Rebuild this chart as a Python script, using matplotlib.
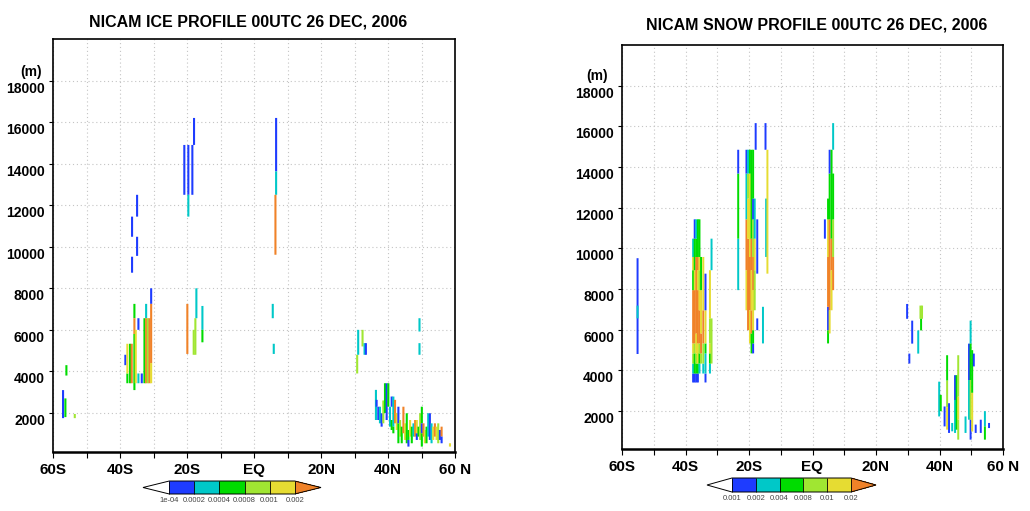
import matplotlib
matplotlib.use('Agg')
import matplotlib.pyplot as plt
from matplotlib.colors import ListedColormap, BoundaryNorm
from matplotlib.cm import ScalarMappable
import matplotlib.transforms as mtransforms

# ---------------- data ----------------
LAT_TICKS = [-60, -40, -20, 0, 20, 40, 60]
LAT_LABELS = ['60S', '40S', '20S', 'EQ', '20N', '40N', '60 N']
Z_TICKS = [2000, 4000, 6000, 8000, 10000, 12000, 14000, 16000, 18000]

ICE_LEVELS = [1e-4, 2e-4, 4e-4, 8e-4, 1e-3, 2e-3]
ICE_LEVEL_LABELS = ['1e-04', '0.0002', '0.0004', '0.0008', '0.001', '0.002']
SNOW_LEVELS = [0.001, 0.002, 0.004, 0.008, 0.01, 0.02]
SNOW_LEVEL_LABELS = ['0.001', '0.002', '0.004', '0.008', '0.01', '0.02']

LEVEL_COLORS = ['#1e3cff', '#00c8c8', '#00dc00', '#a0e632', '#e6dc32']
OVER_COLOR = '#f08228'

ICE_TITLE = 'NICAM ICE PROFILE 00UTC 26 DEC, 2006'
SNOW_TITLE = 'NICAM SNOW PROFILE 00UTC 26 DEC, 2006'

# ice segments: (latitude, bottom m, top m, mixing ratio)
ice_60s = [(-57.0, 1750, 3100, 1.5e-4), (-56.3, 1800, 2700, 6e-4),
           (-56.0, 3800, 4300, 6e-4), (-53.5, 1750, 1950, 9e-4)]
ice_35s_upper = [(-36.4, 8750, 9520, 1.5e-4), (-36.4, 10480, 11450, 1.5e-4),
                 (-34.9, 9560, 10480, 1.5e-4), (-34.9, 11450, 12500, 1.5e-4)]
ice_35s_lower = [(-38.4, 4300, 4800, 1.5e-4), (-37.8, 3430, 3900, 6e-4),
                 (-37.8, 3900, 5330, 1.5e-3), (-37.0, 3430, 5330, 6e-4),
                 (-36.5, 3430, 5330, 3e-3), (-35.7, 6560, 7250, 6e-4),
                 (-35.7, 5800, 6560, 3e-3), (-35.7, 3100, 5800, 6e-4),
                 (-35.3, 3430, 6000, 1.5e-3), (-34.5, 6000, 6560, 1.5e-4),
                 (-34.5, 3430, 3900, 3e-4), (-33.5, 3430, 3900, 1.5e-4),
                 (-32.7, 3430, 6560, 6e-4), (-32.2, 6560, 7250, 3e-4),
                 (-32.2, 3430, 6560, 3e-3), (-31.7, 3430, 6560, 9e-4),
                 (-31.2, 3430, 6560, 3e-3), (-30.7, 7250, 8000, 1.5e-4),
                 (-30.7, 4400, 7250, 3e-3), (-30.7, 3430, 4400, 1.5e-3)]
ice_20s = [(-20.8, 12500, 14900, 1.5e-4), (-19.6, 12500, 14900, 1.5e-4),
           (-19.6, 11450, 12500, 3e-4), (-18.4, 12500, 14900, 1.5e-4),
           (-17.9, 14900, 16200, 1.5e-4), (-19.9, 4840, 7250, 3e-3),
           (-18.0, 4800, 6000, 9e-4), (-17.5, 4800, 6560, 9e-4),
           (-17.2, 6560, 8000, 3e-4), (-15.4, 6000, 7150, 3e-4),
           (-15.4, 5400, 6000, 6e-4)]
ice_eq = [(6.6, 13630, 16200, 1.5e-4), (6.6, 12500, 13630, 3e-4),
          (6.4, 9615, 12500, 3e-3), (5.6, 6560, 7250, 3e-4),
          (5.9, 4840, 5330, 3e-4)]
ice_35n = [(30.8, 3900, 4800, 9e-4), (31.1, 4800, 6000, 3e-4),
           (32.4, 5200, 6000, 9e-4), (33.0, 4800, 5360, 3e-4),
           (33.4, 4800, 5360, 1.5e-4), (49.4, 5920, 6560, 3e-4),
           (49.4, 4800, 5360, 3e-4)]
ice_nh_low = [(36.4, 1660, 3110, 3e-4), (36.6, 2300, 2630, 1.5e-4),
              (37.1, 1660, 2300, 1.5e-4), (37.6, 1500, 2300, 3e-4),
              (38.1, 1340, 1985, 1.5e-4), (38.6, 1500, 2600, 9e-4),
              (39.1, 2000, 3430, 6e-4), (39.6, 1660, 3430, 1.5e-4),
              (40.1, 2300, 3430, 6e-4), (40.6, 1340, 2300, 3e-4),
              (41.1, 2300, 2790, 1.5e-4), (41.1, 1180, 1660, 6e-4),
              (41.6, 1340, 2790, 3e-4), (41.6, 1020, 1340, 6e-4),
              (42.1, 1500, 2630, 3e-3), (42.6, 1180, 2000, 1.5e-3),
              (43.1, 540, 1500, 6e-4), (43.1, 1500, 2300, 1.5e-4),
              (43.6, 860, 1660, 9e-4), (44.1, 540, 1340, 6e-4),
              (44.6, 1020, 2300, 3e-3), (45.1, 700, 1500, 1.5e-3),
              (45.6, 540, 1985, 6e-4), (46.1, 380, 700, 1.5e-4),
              (46.1, 700, 1180, 6e-4), (46.6, 860, 1660, 1.5e-3),
              (47.1, 540, 1340, 6e-4), (47.6, 860, 1500, 3e-4),
              (48.1, 860, 1660, 3e-3), (48.6, 1020, 1660, 1.5e-3),
              (48.6, 700, 1020, 1.5e-4), (49.1, 860, 1340, 6e-4),
              (49.6, 700, 1985, 9e-4), (50.1, 1500, 2300, 6e-4),
              (50.1, 1020, 1500, 1.5e-4), (50.1, 380, 1020, 6e-4),
              (50.6, 860, 1500, 3e-3), (51.0, 540, 1180, 1.5e-3),
              (51.5, 540, 1340, 6e-4), (52.0, 860, 1985, 3e-4),
              (52.5, 700, 1985, 1.5e-4), (53.0, 540, 1500, 3e-4),
              (53.5, 700, 1340, 1.5e-3), (54.0, 860, 1500, 3e-3),
              (54.5, 700, 1340, 1.5e-3), (55.0, 540, 1500, 9e-4),
              (55.5, 700, 1180, 1.5e-4), (56.0, 860, 1340, 3e-3),
              (56.0, 540, 860, 1.5e-4), (58.5, 380, 540, 1.5e-3)]

# snow segments: (latitude, bottom m, top m, mixing ratio)
snow_60s = [(-55.1, 4810, 9520, 1.5e-3), (-55.1, 6560, 7190, 3e-3)]
snow_35s = [(-37.6, 3410, 3850, 1.5e-3), (-37.6, 3850, 4340, 3e-3),
            (-37.6, 4340, 4840, 9e-3), (-37.6, 4840, 5330, 1.5e-2),
            (-37.6, 5330, 7950, 3e-2), (-37.6, 7950, 8930, 6e-3),
            (-37.6, 8930, 9580, 1.5e-2), (-37.6, 9580, 10480, 3e-3),
            (-37.1, 3410, 3850, 1.5e-3), (-37.1, 3850, 4840, 6e-3),
            (-37.1, 4840, 5330, 9e-3), (-37.1, 5330, 7950, 3e-2),
            (-37.1, 7950, 8930, 1.5e-2), (-37.1, 8930, 10480, 6e-3),
            (-37.1, 10480, 11430, 1.5e-3),
            (-36.6, 3410, 3850, 1.5e-3), (-36.6, 3850, 4340, 6e-3),
            (-36.6, 4340, 4840, 9e-3), (-36.6, 4840, 5820, 1.5e-2),
            (-36.6, 5820, 9580, 3e-2), (-36.6, 9580, 10480, 6e-3),
            (-36.6, 10480, 11430, 3e-3),
            (-36.1, 3410, 3850, 1.5e-3), (-36.1, 3850, 4340, 6e-3),
            (-36.1, 4340, 5330, 1.5e-2), (-36.1, 5330, 7950, 3e-2),
            (-36.1, 7950, 8930, 1.5e-2), (-36.1, 8930, 9580, 3e-2),
            (-36.1, 9580, 11430, 6e-3),
            (-35.6, 3850, 4340, 3e-3), (-35.6, 4340, 4840, 6e-3),
            (-35.6, 4840, 5330, 9e-3), (-35.6, 5330, 6960, 3e-2),
            (-35.6, 6960, 7950, 1.5e-2), (-35.6, 7950, 8930, 9e-3),
            (-35.6, 8930, 9580, 1.5e-2), (-35.6, 9580, 11430, 6e-3),
            (-35.1, 4340, 4840, 9e-3), (-35.1, 4840, 5820, 3e-2),
            (-35.1, 5820, 7950, 1.5e-2), (-35.1, 7950, 9580, 6e-3),
            (-34.4, 3850, 4340, 3e-3), (-34.4, 4340, 5330, 9e-3),
            (-34.4, 5330, 6960, 3e-2), (-34.4, 6960, 9580, 1.5e-2),
            (-33.7, 3410, 3850, 1.5e-3), (-33.7, 3850, 4840, 3e-3),
            (-33.7, 4840, 5330, 6e-3), (-33.7, 5330, 6960, 1.5e-2),
            (-33.7, 6960, 8760, 1.5e-3),
            (-32.3, 3850, 4340, 3e-3), (-32.3, 4340, 4840, 6e-3),
            (-32.3, 4840, 5330, 1.5e-2), (-32.3, 5330, 6560, 9e-3),
            (-32.3, 6560, 8930, 1.5e-2), (-31.8, 8930, 10480, 3e-3),
            (-31.8, 4340, 6560, 9e-3)]
snow_20s = [(-23.4, 7950, 10480, 3e-3), (-23.4, 10480, 13680, 6e-3),
            (-23.4, 13680, 14850, 1.5e-3),
            (-20.8, 6960, 8930, 1.5e-2), (-20.8, 8930, 11430, 3e-2),
            (-20.8, 11430, 13680, 3e-3), (-20.8, 13680, 14850, 1.5e-3),
            (-20.3, 5980, 10480, 3e-2), (-20.3, 10480, 12450, 1.5e-2),
            (-20.3, 12450, 13680, 9e-3), (-20.3, 13680, 14850, 3e-3),
            (-19.7, 5330, 6960, 1.5e-2), (-19.7, 6960, 9580, 3e-2),
            (-19.7, 9580, 13680, 1.5e-2), (-19.7, 13680, 14850, 6e-3),
            (-19.2, 4840, 5820, 6e-3), (-19.2, 5820, 6960, 3e-2),
            (-19.2, 6960, 8930, 1.5e-2), (-19.2, 8930, 10480, 3e-2),
            (-19.2, 10480, 14850, 6e-3),
            (-18.7, 4840, 5330, 1.5e-3), (-18.7, 5330, 5980, 6e-3),
            (-18.7, 5980, 7950, 1.5e-2), (-18.7, 7950, 9580, 3e-2),
            (-18.7, 9580, 11430, 9e-3), (-18.7, 11430, 12450, 1.5e-3),
            (-18.7, 12450, 14850, 6e-3),
            (-18.2, 6960, 8930, 9e-3), (-18.2, 8930, 10480, 1.5e-2),
            (-18.2, 10480, 12450, 3e-3), (-17.9, 14850, 16160, 1.5e-3),
            (-17.4, 5980, 6560, 1.5e-3), (-17.4, 8760, 11430, 1.5e-3),
            (-15.6, 5330, 7130, 3e-3), (-14.8, 14850, 16160, 1.5e-3),
            (-14.6, 9580, 12450, 3e-3), (-14.2, 8760, 14850, 1.5e-2)]
snow_eq = [(3.9, 10480, 11430, 1.5e-3),
           (4.9, 5330, 5980, 6e-3), (4.9, 5980, 7130, 1.5e-3),
           (4.9, 7130, 9580, 3e-2), (4.9, 9580, 11430, 1.5e-2),
           (4.9, 11430, 12450, 6e-3),
           (5.4, 5820, 6960, 1.5e-2), (5.4, 6960, 11430, 3e-2),
           (5.4, 11430, 13680, 6e-3), (5.4, 13680, 14850, 1.5e-3),
           (6.0, 6960, 8930, 1.5e-2), (6.0, 8930, 10480, 3e-2),
           (6.0, 10480, 14850, 6e-3),
           (6.5, 7950, 9580, 3e-2), (6.5, 9580, 11430, 9e-3),
           (6.5, 11430, 13680, 6e-3), (6.5, 14850, 16160, 3e-3)]
snow_nh = [(29.8, 6540, 7270, 1.5e-3), (30.5, 4340, 4830, 1.5e-3),
           (31.4, 5320, 6450, 1.5e-3), (33.3, 4830, 5970, 3e-3),
           (34.0, 6540, 7190, 9e-3), (34.5, 6540, 7190, 9e-3),
           (34.2, 5970, 6540, 6e-3),
           (39.9, 1740, 3450, 3e-3), (40.4, 2000, 2800, 6e-3),
           (41.6, 1250, 2230, 1.5e-3), (42.4, 3500, 4750, 6e-3),
           (42.4, 2200, 3500, 9e-3), (42.4, 1090, 2200, 1.5e-2),
           (43.0, 930, 2390, 1.5e-3), (44.0, 1010, 1420, 3e-3),
           (44.9, 2550, 3770, 1.5e-3), (44.9, 930, 2550, 3e-3),
           (45.4, 1090, 3770, 6e-3), (45.9, 600, 1580, 9e-3),
           (45.9, 1580, 2720, 1.5e-2), (45.9, 2720, 4750, 9e-3),
           (48.2, 930, 1740, 3e-3),
           (49.3, 1580, 3530, 3e-3), (49.3, 3530, 5320, 1.5e-3),
           (49.8, 5320, 6450, 3e-3), (49.8, 3530, 5320, 6e-3),
           (49.8, 1580, 3530, 9e-3), (49.8, 600, 1580, 1.5e-3),
           (50.3, 2900, 5000, 6e-3), (50.3, 1000, 2900, 1.5e-2),
           (50.8, 4200, 4830, 1.5e-3), (51.4, 930, 1340, 1.5e-3),
           (53.0, 930, 1580, 1.5e-3), (54.3, 1250, 2000, 3e-3),
           (54.3, 600, 1250, 6e-3), (55.6, 1170, 1420, 1.5e-3)]

ICE_SEGMENTS = ice_60s + ice_35s_upper + ice_35s_lower + ice_20s + ice_eq + ice_35n + ice_nh_low
SNOW_SEGMENTS = snow_60s + snow_35s + snow_20s + snow_eq + snow_nh

# ---------------- figure ----------------
FONT = ['Liberation Sans', 'DejaVu Sans']
plt.rcParams['font.family'] = FONT

W, H = 1030, 511
fig = plt.figure(figsize=(W / 100, H / 100), dpi=100)


def fx(px):
    return px / W


def fy(py):
    return 1 - py / H


cmap = ListedColormap(LEVEL_COLORS)
cmap.set_under('white')
cmap.set_over(OVER_COLOR)


def make_panel(rect, segs, levels, level_labels, title, title_xy, m_xy, cbar_rect, ylim):
    x0, y0, x1, y1 = rect
    ax = fig.add_axes([fx(x0), fy(y1), fx(x1 - x0), (y1 - y0) / H])
    norm = BoundaryNorm(levels, cmap.N)
    lats = [s[0] for s in segs]
    bots = [s[1] for s in segs]
    hts = [s[2] - s[1] for s in segs]
    cols = [cmap(norm(s[3])) for s in segs]
    ax.bar(lats, hts, bottom=bots, width=0.62, color=cols, linewidth=0,
           snap=False, zorder=3)
    ax.set_xlim(-60, 60)
    ax.set_ylim(*ylim)
    ax.set_xticks(LAT_TICKS)
    ax.set_xticklabels(LAT_LABELS, fontsize=11, fontweight='bold')
    ax.set_xticks(range(-50, 60, 20), minor=True)
    ax.set_yticks(Z_TICKS)
    ax.set_yticklabels([])
    ax.tick_params(axis='x', which='both', direction='out', length=4, width=0.8, pad=4)
    ax.tick_params(axis='y', direction='out', length=3, width=0.8)
    ax.grid(True, which='both', color='#c4c4c4', linestyle=(0, (1, 2.5)), linewidth=0.8, zorder=0)
    for sp in ax.spines.values():
        sp.set_linewidth(1.2)
    ax.spines['bottom'].set_linewidth(1.8)
    off = mtransforms.offset_copy(ax.get_yaxis_transform(), fig=fig, x=-8, y=-8, units='dots')
    for z in Z_TICKS:
        ax.text(0, z, str(z), transform=off, ha='right', va='center',
                fontsize=10, fontweight='bold')
    fig.text(fx(m_xy[0]), fy(m_xy[1]), '(m)', ha='center', va='center',
             fontsize=10, fontweight='bold')
    fig.text(fx(title_xy[0]), fy(title_xy[1]), title, ha='center', va='center',
             fontsize=11.5, fontweight='bold')

    cx0, cy0, cx1, cy1 = cbar_rect
    cax = fig.add_axes([fx(cx0), fy(cy1), fx(cx1 - cx0), (cy1 - cy0) / H])
    sm = ScalarMappable(norm=BoundaryNorm(levels, cmap.N), cmap=cmap)
    cb = fig.colorbar(sm, cax=cax, orientation='horizontal', extend='both',
                      extendfrac=0.21, drawedges=True, ticks=levels)
    cb.ax.set_xticklabels(level_labels)
    cb.ax.tick_params(length=0, labelsize=5.5, labelcolor='#444444', pad=2)
    cb.outline.set_linewidth(0.7)
    cb.dividers.set_linewidth(0.6)
    return ax


make_panel((53, 39, 455, 452), ICE_SEGMENTS, ICE_LEVELS, ICE_LEVEL_LABELS, ICE_TITLE,
           (248, 22), (31, 72), (143, 481, 321, 494), (120, 20000))
make_panel((622, 45, 1003, 449), SNOW_SEGMENTS, SNOW_LEVELS, SNOW_LEVEL_LABELS, SNOW_TITLE,
           (817, 25), (597, 76), (707, 478, 876, 492), (140, 20000))

fig.savefig('out.png', dpi=100)
